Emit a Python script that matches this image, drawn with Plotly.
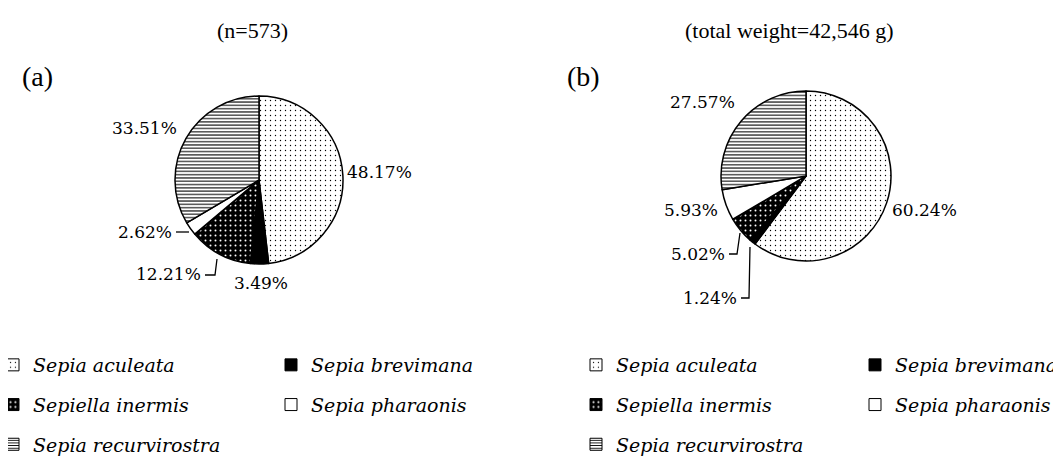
import plotly.graph_objects as go

# ---------------- data ----------------
species = ["Sepia aculeata", "Sepia brevimana", "Sepiella inermis",
           "Sepia pharaonis", "Sepia recurvirostra"]
pct_number = [48.17, 3.49, 12.21, 2.62, 33.51]      # (a) by number, n=573
pct_weight = [60.24, 1.24, 5.02, 5.93, 27.57]       # (b) by weight, 42,546 g
title_a = "(n=573)"
title_b = "(total weight=42,546 g)"
panel_labels = ["(a)", "(b)"]

# ---------------- styles ----------------
OFF = 8                      # page offset of the figure (body margin)
W, H = 1061 - OFF, 457 - OFF
fill_bg = ["white", "black", "black", "white", "white"]
pat_shape = [".", "", ".", "", "-"]
pat_fg = ["black", "black", "white", "black", "black"]
pat_size = [5, 5, 5, 5, 3.3]
pat_solid = [0.06, 0.3, 0.12, 0.3, 0.32]


def px(x):
    """page pixel x -> paper fraction"""
    return (x - OFF) / W


def py(y):
    """page pixel y -> paper fraction"""
    return 1 - (y - OFF) / H


fig = go.Figure()

pie_geom = [  # centre x, centre y, radius (page pixels)
    (259, 180, 84),
    (806, 176, 85),
]
for values, (cx, cy, r) in zip([pct_number, pct_weight], pie_geom):
    fig.add_trace(go.Pie(
        labels=species, values=values, sort=False, direction="clockwise",
        rotation=0, textinfo="none", hoverinfo="label+percent",
        showlegend=False,
        domain=dict(x=[px(cx - r), px(cx + r)], y=[py(cy + r), py(cy - r)]),
        marker=dict(colors=fill_bg,
                    line=dict(color="black", width=1.5),
                    pattern=dict(shape=pat_shape, fgcolor=pat_fg, bgcolor=fill_bg,
                                 size=pat_size, solidity=pat_solid,
                                 fillmode="replace")),
    ))

# legend entries (two columns per panel, filled row by row)
legend_cols = [[0, 2, 4], [1, 3]]
legend_names = [["legend", "legend2"], ["legend3", "legend4"]]
leg_size = [6, 6, 6, 6, 3.3]
leg_solid = [0.05, 0.3, 0.15, 0.3, 0.35]
for panel in range(2):
    for col, idxs in enumerate(legend_cols):
        for i in idxs:
            fig.add_trace(go.Bar(
                x=[None], y=[None], name=species[i],
                legend=legend_names[panel][col],
                legendgroup=f"{panel}-{i}", showlegend=True, hoverinfo="skip",
                marker=dict(color=fill_bg[i],
                            line=dict(color="black", width=1),
                            pattern=dict(shape=pat_shape[i], fgcolor=pat_fg[i],
                                         bgcolor=fill_bg[i], size=leg_size[i],
                                         solidity=leg_solid[i],
                                         fillmode="replace")),
            ))

legend_font = dict(family="DejaVu Serif", size=19, style="italic", color="black")
legend_x = [[-7, 271], [576, 855]]   # page pixels of legend left edge
leg_layout = {}
for panel in range(2):
    for col in range(2):
        leg_layout[legend_names[panel][col]] = dict(
            xref="paper", yref="paper",
            x=px(legend_x[panel][col]), y=py(346),
            xanchor="left", yanchor="top",
            bgcolor="rgba(0,0,0,0)", borderwidth=0,
            font=legend_font, tracegroupgap=12, traceorder="grouped",
            itemclick=False, itemdoubleclick=False, orientation="v",
        )

# percentage labels: (x, y, anchor) in page pixels
label_pos_a = [(345, 172, "left"), (232, 283, "left"), (203, 274, "right"),
               (174, 232, "right"), (179, 128, "right")]
label_pos_b = [(890, 210, "left"), (739, 298, "right"), (727, 254, "right"),
               (720, 210, "right"), (668, 102, "left")]
pct_font = dict(family="DejaVu Serif", size=17, color="black")

annotations = []
for values, positions in [(pct_number, label_pos_a), (pct_weight, label_pos_b)]:
    for v, (x, y, anc) in zip(values, positions):
        annotations.append(dict(
            x=px(x), y=py(y), xref="paper", yref="paper", text=f"{v:.2f}%",
            showarrow=False, xanchor=anc, yanchor="middle", font=pct_font))

title_font = dict(family="Liberation Serif", size=22, color="black")
for t, x in [(title_a, 252), (title_b, 789)]:
    annotations.append(dict(x=px(x), y=py(31), xref="paper", yref="paper", text=t,
                            showarrow=False, xanchor="center", yanchor="middle",
                            font=title_font))
for t, x in zip(panel_labels, [37, 583]):
    annotations.append(dict(x=px(x), y=py(77), xref="paper", yref="paper", text=t,
                            showarrow=False, xanchor="center", yanchor="middle",
                            font=dict(family="Liberation Serif", size=28, color="black")))

# leader lines (page pixel paths)
leaders = [
    [(176, 232), (189, 232)],
    [(205, 275), (215, 275), (217, 259)],
    [(729, 254), (737, 254), (740, 233)],
    [(741, 298), (749, 298), (750, 247)],
]
shapes = []
for pts in leaders:
    path = "M " + " L ".join(f"{px(x)},{py(y)}" for x, y in pts)
    shapes.append(dict(type="path", xref="paper", yref="paper", path=path,
                       line=dict(color="black", width=1.3)))

fig.update_layout(
    width=W, height=H, margin=dict(l=0, r=0, t=0, b=0, autoexpand=False),
    paper_bgcolor="white", plot_bgcolor="white",
    xaxis=dict(visible=False), yaxis=dict(visible=False),
    annotations=annotations, shapes=shapes,
    **leg_layout,
)

fig.write_html("out.html")
